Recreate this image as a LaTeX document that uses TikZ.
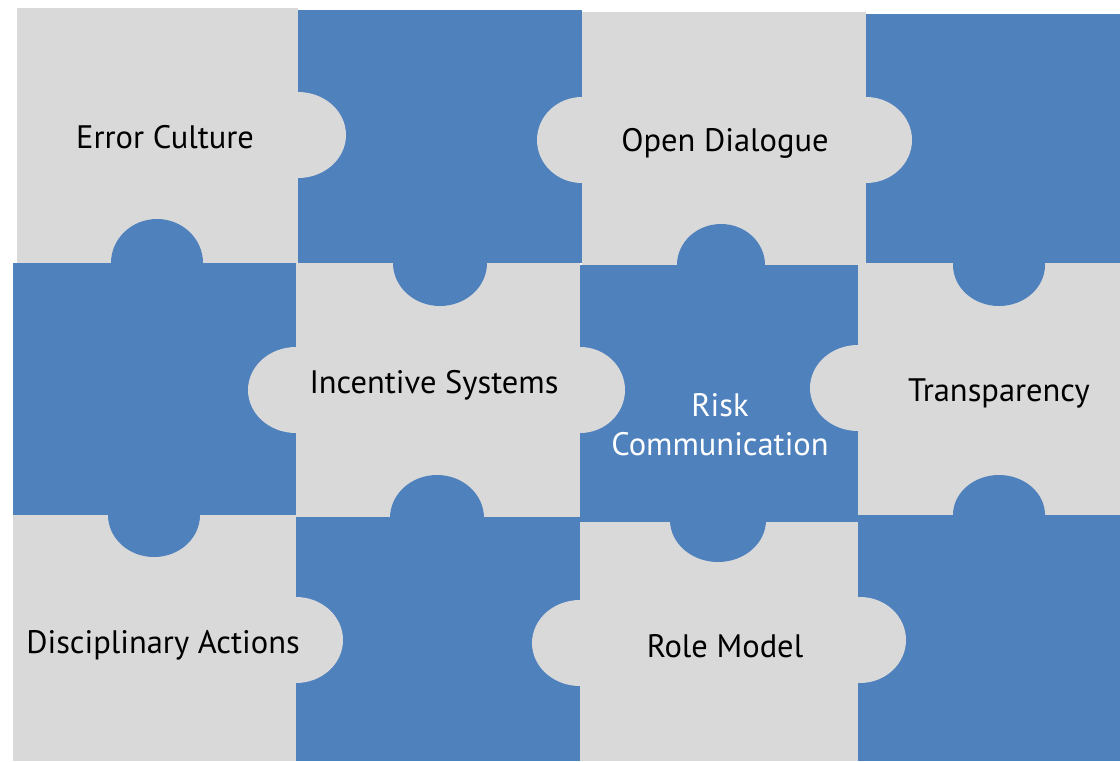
\documentclass[tikz,border=0pt]{standalone}
\usepackage{fontspec}
\setmainfont{PT Sans}
\usetikzlibrary{positioning}
\definecolor{pieceblue}{HTML}{4F81BD}
\definecolor{piecegray}{HTML}{D9D9D9}
\tikzset{
  blue piece/.style={fill=pieceblue},
  gray piece/.style={fill=piecegray},
  word/.style={anchor=base, inner sep=0pt, font=\fontsize{32.5}{39}\selectfont, text=black},
}

\begin{document}
\begin{tikzpicture}[x=1pt,y=-1pt]
  \useasboundingbox[fill=white] (0,0) rectangle (1120,761);
  \fill[gray piece] (17,8) rectangle (298,263);
  \fill[blue piece] (298,10) rectangle (582,263);
  \fill[gray piece] (582,12) rectangle (866,265);
  \fill[blue piece] (866,14) rectangle (1120,265);
  \fill[blue piece] (13,263) rectangle (296,515);
  \fill[gray piece] (296,263) rectangle (580,517);
  \fill[blue piece] (580,265) rectangle (858,522);
  \fill[gray piece] (858,263) rectangle (1120,515);
  \fill[gray piece] (13,515) rectangle (296,761);
  \fill[blue piece] (296,517) rectangle (580,761);
  \fill[gray piece] (580,522) rectangle (860,761);
  \fill[blue piece] (858,515) rectangle (1120,761);

  \fill[gray piece] (298,135) ellipse [x radius=48, y radius=43];
  \fill[gray piece] (582,140) ellipse [x radius=45, y radius=43];
  \fill[gray piece] (866,140) ellipse [x radius=46, y radius=43];
  \fill[gray piece] (296,390) ellipse [x radius=48, y radius=43];
  \fill[gray piece] (580,390) ellipse [x radius=45, y radius=43];
  \fill[gray piece] (858,388) ellipse [x radius=48, y radius=43];
  \fill[gray piece] (296,640) ellipse [x radius=47, y radius=43];
  \fill[gray piece] (580,643) ellipse [x radius=48, y radius=43];
  \fill[gray piece] (860,640) ellipse [x radius=46, y radius=43];

  \fill[blue piece] (157,263) ellipse [x radius=46, y radius=44];
  \fill[blue piece] (440,263) ellipse [x radius=47, y radius=43];
  \fill[blue piece] (721,265) ellipse [x radius=44, y radius=41];
  \fill[blue piece] (999,265) ellipse [x radius=46, y radius=41];
  \fill[blue piece] (154,515) ellipse [x radius=46, y radius=42];
  \fill[blue piece] (437,518) ellipse [x radius=47, y radius=43];
  \fill[blue piece] (718,520) ellipse [x radius=48, y radius=42];
  \fill[blue piece] (999,515) ellipse [x radius=46, y radius=40];

  \node[word] (error) at (165,148) {Error Culture};
  \node[word] (dialogue) at (725,151) {Open Dialogue};
  \node[word] (incentive) at (434,393) {Incentive Systems};
  \node[word, text=white] (risk) at (720,416) {Risk};
  \node[word, text=white] (communication) at (720,455) {Communication};
  \node[word] (transparency) at (999,401) {Transparency};
  \node[word] (disciplinary) at (163,653) {Disciplinary Actions};
  \node[word] (rolemodel) at (725,657) {Role Model};
\end{tikzpicture}
\end{document}
